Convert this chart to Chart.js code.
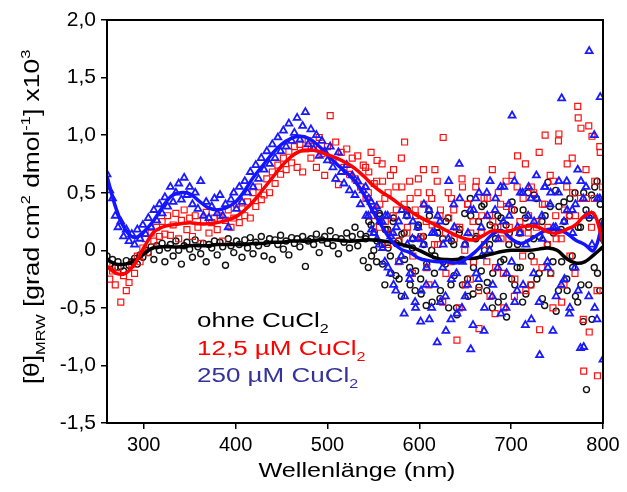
<!DOCTYPE html>
<html>
<head>
<meta charset="utf-8">
<script src="https://cdn.jsdelivr.net/npm/chart.js@4"></script>
<style>
  html, body { margin: 0; padding: 0; background: #fff; }
  #wrap { width: 627px; height: 492px; }
</style>
</head>
<body>
<div id="wrap"><canvas id="cdChart" width="627" height="492"></canvas></div>
<script>
// wavelength grid of the measurement (nm) and of the smoothed fits
const scanStart = 260, scanEnd = 800, scanStep = 3;
const extraStart = 541.5;   // second, interleaved pass in the noisy range
const fitStep = 10;

// raw CD signal, one value per scan step (260, 263, ... 800)
const ohneValues = [
  -0.05, -0.12, -0.08, -0.15, -0.1, -0.14, -0.18, -0.09, -0.13, -0.1,
  -0.07, -0.12, -0.04, -0.06, 0.0, -0.02, 0.03, -0.08, 0.04, 0.0,
  0.06, -0.1, 0.02, 0.05, -0.05, 0.08, 0.0, -0.12, 0.04, 0.07,
  0.01, -0.06, 0.09, 0.03, -0.03, 0.06, -0.1, 0.05, 0.02, 0.08,
  -0.04, 0.07, 0.03, -0.13, 0.1, 0.04, -0.02, 0.08, 0.05, -0.06,
  0.09, 0.02, 0.11, -0.03, 0.07, 0.04, 0.12, -0.05, 0.06, 0.1,
  -0.08, 0.09, 0.05, 0.13, 0.01, 0.08, -0.04, 0.11, 0.06, 0.1,
  0.03, 0.12, -0.14, 0.08, 0.1, 0.05, 0.14, -0.02, 0.09, 0.12,
  0.06, 0.17, 0.04, 0.11, -0.03, 0.1, 0.07, 0.15, 0.02, 0.12,
  0.2, 0.04, 0.14, -0.09, 0.12, 0.25, -0.05, 0.16, 0.08, 0.3,
  -0.12, 0.18, 0.02, -0.2, 0.28, 0.06, -0.25, 0.14, -0.08, 0.35,
  -0.3, 0.1, -0.18, 0.22, -0.38, 0.05, -0.12, 0.3, -0.45, -0.05,
  0.15, -0.35, -0.1, 0.25, -0.5, 0.08, -0.22, -0.56, 0.18, -0.3,
  0.05, -0.4, 0.3, -0.15, 0.12, -0.32, 0.38, 0.0, -0.28, 0.22,
  -0.2, 0.1, -0.45, 0.28, -0.08, -0.58, 0.15, 0.42, -0.3, 0.05,
  -0.15, 0.35, -0.38, 0.2, -0.05, 0.48, -0.25, 0.12, -0.42, 0.3,
  0.59, -0.2, 0.15, -0.53, 0.38, -0.1, 0.25, -0.35, 0.45, -0.15,
  -0.4, 0.2, -0.3, 0.5, -1.21, 0.28, -0.6, 0.55, -0.2, 0.4,
  0.1
];
const cu12Values = [
  -0.12, -0.25, -0.18, -0.3, -0.15, -0.45, -0.22, -0.35, -0.28, -0.12,
  -0.2, -0.05, -0.1, 0.02, 0.1, -0.02, 0.15, 0.08, 0.2, 0.12,
  0.25, 0.14, 0.3, 0.13, 0.22, 0.32, 0.1, 0.26, 0.35, 0.18,
  0.28, 0.12, 0.3, 0.2, 0.06, 0.26, 0.33, 0.15, 0.24, 0.28,
  0.18, 0.3, 0.08, 0.26, 0.35, 0.2, 0.28, 0.4, 0.24, 0.36,
  0.3, 0.42, 0.28, 0.5, 0.38, 0.55, 0.44, 0.48, 0.62, 0.5,
  0.68, 0.58, 0.74, 0.66, 0.8, 0.7, 0.86, 0.76, 0.9, 0.72,
  0.92, 0.68, 0.88, 0.95, 0.8, 0.9, 0.72, 0.98, 0.84, 0.65,
  0.9, 1.17, 0.78, 0.94, 0.57, 0.85, 0.72, 0.88, 0.66, 0.8,
  0.62, 0.82, 0.55, 0.74, 0.45, 0.68, 0.3, 0.58, 0.78, 0.4,
  0.6, 0.25, 0.5, 0.15, 0.7, 0.35, 0.08, 0.55, 0.94, 0.2,
  0.45, -0.05, 0.3, 0.62, 0.12, 0.4, -0.15, 0.5, 0.22, 0.7,
  0.05, 0.35, 0.98, -0.2, 0.28, 0.45, 0.1, -0.78, 0.2, 0.55,
  -0.3, 0.4, 0.15, -0.1, 0.6, -0.68, 0.3, 0.05, 0.45, -0.4,
  0.25, -0.15, 0.5, 0.1, -0.5, 0.38, 0.2, 0.65, -0.25, 0.82,
  0.15, 0.45, -0.35, 0.3, 0.55, -0.1, 0.25, -0.69, 0.4, 1.0,
  0.2, -0.2, 0.6, 0.1, 1.01, -0.45, 0.35, 0.75, -0.05, 0.5,
  0.3, 1.15, 1.06, -1.05, 0.45, -0.71, 0.99, 0.6, -1.09, 0.85,
  0.2
];
const cu250Values = [
  0.66, 0.52, 0.45, 0.3, 0.2, 0.25, 0.12, 0.18, 0.08, 0.14,
  0.05, 0.18, 0.1, 0.22, 0.14, 0.28, 0.2, 0.35, 0.26, 0.4,
  0.32, 0.46, 0.38, 0.55, 0.42, 0.5, 0.58, 0.44, 0.63, 0.48,
  0.55, 0.4, 0.5, 0.36, 0.6, 0.3, 0.42, 0.28, 0.38, 0.45,
  0.32, 0.48, 0.3, 0.4, 0.2, 0.44, 0.5, 0.36, 0.55, 0.42,
  0.6, 0.5, 0.68, 0.55, 0.74, 0.62, 0.8, 0.7, 0.86, 0.75,
  0.92, 0.8, 0.98, 0.86, 1.04, 0.9, 1.1, 0.95, 1.02, 1.15,
  0.96, 1.08, 1.2, 0.92, 1.05, 0.88, 1.0, 0.82, 0.95, 0.86,
  0.78, 0.9, 0.72, 0.62, 0.85, 0.68, 0.58, 0.74, 0.52, 0.65,
  0.48, 0.6, 0.4, 0.52, 0.3, 0.45, 0.18, 0.35, 0.1, 0.25,
  0.02, 0.3, -0.15, 0.12, -0.3, 0.2, -0.1, 0.35, -0.4, 0.05,
  -0.2, 0.25, -0.5, 0.1, -0.35, 0.4, -0.15, -0.6, 0.15, -0.3,
  0.3, -0.45, 0.05, -0.7, 0.6, -0.25, 0.2, -0.55, 0.45, -0.1,
  -0.4, 0.15, -0.86, 0.35, -0.2, 0.5, -0.05, -0.5, 0.3, 0.6,
  -0.3, 0.45, 0.1, -0.55, 0.55, -0.2, 0.3, 1.17, -0.45, 0.2,
  0.5, -0.3, 0.05, 0.55, -0.6, 0.25, 0.45, -0.91, 0.1, 0.55,
  -0.15, 0.5, 0.2, -0.4, 0.6, 1.32, -0.25, 0.35, -0.5, 0.15,
  0.4, -0.35, 0.6, -0.84, 0.3, 1.73, 0.05, -0.5, 0.45, 1.33,
  -0.95
];

// second pass, 541.5, 544.5, ... 799.5 nm
const ohneExtra = [
  0.1, -0.15, 0.22, 0.0, -0.1, 0.32, 0.05, -0.3, 0.18, -0.05,
  0.25, -0.22, 0.08, -0.4, 0.15, 0.3, -0.15, 0.02, -0.35, 0.2,
  -0.25, 0.12, -0.48, 0.35, 0.0, -0.2, 0.2, -0.42, 0.1, -0.12,
  0.28, -0.3, 0.05, -0.5, 0.15, -0.08, 0.32, -0.25, 0.45, -0.38,
  0.1, 0.25, -0.18, 0.4, -0.35, 0.05, -0.5, 0.2, 0.3, -0.1,
  -0.4, 0.22, 0.05, -0.25, 0.35, -0.15, 0.15, -0.45, 0.28, 0.5,
  -0.3, 0.1, 0.45, -0.2, 0.25, -0.48, 0.05, 0.38, -0.1, 0.52,
  -0.35, 0.18, 0.42, -0.25, 0.3, -0.05, 0.5, -0.45, 0.2, -0.62,
  0.35, -0.3, 0.48, -0.15, 0.6, -0.35, 0.25
];
const cu12Extra = [
  0.72, 0.5, 0.85, 0.35, 0.6, 0.2, 0.75, 0.45, 0.05, 0.65,
  0.3, 0.55, -0.1, 0.8, 0.4, 0.15, 0.6, -0.2, 0.35, 0.5,
  0.1, 0.7, 0.25, -0.3, 0.45, 0.05, 0.6, 0.3, -0.45, 0.15,
  0.5, -0.1, 0.35, 0.2, -0.5, 0.62, 0.0, 0.4, -0.25, 0.25,
  0.55, -0.35, 0.15, 0.45, -0.1, 0.3, 0.7, -0.55, 0.2, 0.4,
  -0.2, 0.6, 0.1, 0.35, -0.4, 0.55, 0.25, -0.05, 0.75, 0.15,
  -0.3, 0.5, 0.2, 0.85, -0.15, 0.4, 0.05, 0.65, -0.5, 0.3,
  0.95, 0.1, -0.3, 0.55, 0.3, 0.8, -0.2, 1.25, 0.45, -0.6,
  0.7, 1.08, 0.2, 0.45, -0.35, 0.9, 0.55
];
const cu250Extra = [
  0.55, 0.3, 0.42, 0.15, 0.38, 0.05, 0.25, -0.1, 0.3, -0.2,
  0.15, -0.35, 0.25, -0.05, -0.55, 0.3, -0.25, 0.1, -0.45, 0.2,
  -0.62, 0.05, -0.3, 0.35, -0.5, 0.15, -0.8, 0.25, -0.15, -0.4,
  0.1, -0.6, 0.4, -0.2, 0.75, -0.5, 0.05, -0.3, 0.35, -0.65,
  0.45, -0.25, 0.2, -0.7, 0.5, 0.0, -0.4, 0.35, -0.15, 0.55,
  0.25, -0.5, 0.4, -0.1, 0.6, -0.35, 0.15, 0.5, -0.65, 0.3,
  0.45, -0.2, 0.65, -0.45, 0.3, 0.55, -0.1, 0.4, -0.7, 0.2,
  0.5, -0.3, 0.25, 0.6, -0.55, 0.35, -0.15, 0.7, -0.85, 0.45,
  0.55, -0.4, 0.3, 1.0, -0.6, 0.45, 0.15
];

// smoothed curves, one value per 10 nm (260 ... 800)
const ohneFit = [
  -0.08, -0.12, -0.12, -0.09, -0.03, 0.02, 0.03, 0.03, 0.03, 0.04,
  0.04, 0.04, 0.05, 0.05, 0.05, 0.05, 0.06, 0.06, 0.07, 0.07,
  0.08, 0.08, 0.08, 0.09, 0.09, 0.09, 0.08, 0.08, 0.09, 0.09,
  0.08, 0.07, 0.05, 0.03, 0.0, -0.04, -0.07, -0.08, -0.08, -0.07,
  -0.07, -0.05, -0.03, -0.01, 0.0, 0.0, 0.0, 0.01, 0.02, 0.0,
  -0.07, -0.11, -0.1, -0.04, 0.03
];
const cu12Fit = [
  -0.14, -0.2, -0.2, -0.12, 0.02, 0.15, 0.2, 0.22, 0.23, 0.24,
  0.23, 0.23, 0.24, 0.26, 0.29, 0.35, 0.43, 0.53, 0.63, 0.73,
  0.81, 0.86, 0.87, 0.86, 0.83, 0.8, 0.76, 0.71, 0.64, 0.56,
  0.5, 0.45, 0.39, 0.34, 0.29, 0.25, 0.21, 0.17, 0.13, 0.1,
  0.09, 0.13, 0.17, 0.16, 0.17, 0.2, 0.21, 0.2, 0.16, 0.15,
  0.18, 0.22, 0.3, 0.32, 0.06
];
const cu250Fit = [
  0.64, 0.36, 0.18, 0.11, 0.16, 0.25, 0.37, 0.47, 0.5, 0.49,
  0.43, 0.37, 0.35, 0.37, 0.42, 0.52, 0.64, 0.74, 0.84, 0.92,
  0.97, 0.99, 0.97, 0.91, 0.83, 0.75, 0.68, 0.6, 0.48, 0.33,
  0.2, 0.08, 0.01, -0.02, -0.07, -0.09, -0.1, -0.1, -0.11, -0.08,
  -0.02, 0.06, 0.14, 0.17, 0.1, 0.06, 0.09, 0.14, 0.18, 0.18,
  0.15, 0.09, 0.05, 0.0, 0.26
];

const xTickValues = [300, 400, 500, 600, 700, 800];
const yTickValues = [-1.5, -1.0, -0.5, 0, 0.5, 1.0, 1.5, 2.0];
const yTickLabels = ['-1,5', '-1,0', '-0,5', '0', '0,5', '1,0', '1,5', '2,0'];

const FONT = '"Liberation Sans", Arial, sans-serif';

const scanWaves = [];
for (let w = scanStart; w <= scanEnd; w += scanStep) scanWaves.push(w);
const extraWaves = [];
for (let w = extraStart; w <= scanEnd; w += scanStep) extraWaves.push(w);
const fitWaves = [];
for (let w = scanStart; w <= scanEnd; w += fitStep) fitWaves.push(w);

const toPoints = (xs, ys) => xs.map((x, i) => ({ x, y: ys[i] }));

// draws a run of text pieces (normal / sub / sup), optionally rotated and stretched
function drawRich(ctx, parts, x, y, size, stretch, rotate, align) {
  let total = 0;
  parts.forEach(p => {
    p.size = p.k ? size * 0.62 : size;
    ctx.font = `${p.size}px ${FONT}`;
    p.w = ctx.measureText(p.t).width;
    total += p.w;
  });
  ctx.save();
  ctx.translate(x, y);
  if (rotate) ctx.rotate(rotate);
  ctx.scale(stretch, 1);
  let cx = align === 'center' ? -total / 2 : 0;
  ctx.textBaseline = 'alphabetic';
  ctx.textAlign = 'left';
  parts.forEach(p => {
    ctx.font = `${p.size}px ${FONT}`;
    let dy = 0;
    if (p.k === 'sub') dy = size * 0.28;
    if (p.k === 'sup') dy = -size * 0.42;
    ctx.fillText(p.t, cx, dy);
    cx += p.w;
  });
  ctx.restore();
}

const framePlugin = {
  id: 'framePlugin',
  beforeDraw(chart) {
    const { ctx } = chart;
    ctx.save();
    ctx.fillStyle = '#fff';
    ctx.fillRect(0, 0, chart.width, chart.height);
    ctx.restore();
  },
  afterDraw(chart) {
    const { ctx, chartArea: a } = chart;
    ctx.save();
    ctx.strokeStyle = '#000';
    ctx.lineWidth = 2;
    ctx.strokeRect(a.left, a.top, a.right - a.left, a.bottom - a.top);

    // y title
    ctx.fillStyle = '#000';
    drawRich(ctx, [
      { t: '[θ]' }, { t: 'MRW', k: 'sub' }, { t: ' [grad cm' }, { t: '2', k: 'sup' },
      { t: ' dmol' }, { t: '-1', k: 'sup' }, { t: '] x10' }, { t: '3', k: 'sup' }
    ], 39, 217, 22, 1.2, -Math.PI / 2, 'center');

    // x title
    drawRich(ctx, [{ t: 'Wellenlänge (nm)' }], 357, 477, 21, 1.2, 0, 'center');

    // legend text
    const legend = [
      { text: '12,5 µM CuCl', color: '#ff0000', y: 355 },
      { text: '250 µM CuCl', color: '#333399', y: 382 }
    ];
    ctx.fillStyle = '#000';
    drawRich(ctx, [{ t: 'ohne CuCl' }, { t: '2', k: 'sub' }], 197, 327, 20, 1.3, 0, 'left');
    legend.forEach(l => {
      ctx.fillStyle = l.color;
      drawRich(ctx, [{ t: l.text }, { t: '2', k: 'sub' }], 197, l.y, 20, 1.3, 0, 'left');
    });
    ctx.restore();
  }
};

const scatterSet = (label, xs, values, color, style, radius, width, order) => ({
  type: 'scatter',
  label,
  data: toPoints(xs, values),
  pointStyle: style,
  pointRadius: radius,
  pointBorderWidth: width,
  borderColor: color,
  backgroundColor: 'rgba(255,255,255,0)',
  showLine: false,
  order
});

const fitSet = (label, values, color, order) => ({
  type: 'line',
  label,
  data: toPoints(fitWaves, values),
  borderColor: color,
  borderWidth: 3.5,
  pointRadius: 0,
  tension: 0.4,
  fill: false,
  order
});

new Chart(document.getElementById('cdChart').getContext('2d'), {
  type: 'scatter',
  data: {
    datasets: [
      scatterSet('ohne CuCl2', scanWaves, ohneValues, '#111111', 'circle', 3, 1.4, 9),
      scatterSet('ohne CuCl2 b', extraWaves, ohneExtra, '#111111', 'circle', 3, 1.4, 8),
      scatterSet('12,5 µM CuCl2', scanWaves, cu12Values, '#ff1010', 'rect', 4.2, 1.2, 7),
      scatterSet('12,5 µM CuCl2 b', extraWaves, cu12Extra, '#ff1010', 'rect', 4.2, 1.2, 6),
      scatterSet('250 µM CuCl2', scanWaves, cu250Values, '#1a1aff', 'triangle', 4, 1.8, 5),
      scatterSet('250 µM CuCl2 b', extraWaves, cu250Extra, '#1a1aff', 'triangle', 4, 1.8, 4),
      fitSet('ohne fit', ohneFit, '#000000', 3),
      fitSet('250 fit', cu250Fit, '#1414ff', 2),
      fitSet('12,5 fit', cu12Fit, '#ff0000', 1)
    ]
  },
  options: {
    responsive: false,
    animation: false,
    layout: { padding: { left: 0, top: 20, right: 24, bottom: 0 } },
    plugins: {
      legend: { display: false },
      tooltip: { enabled: false }
    },
    scales: {
      x: {
        type: 'linear',
        min: scanStart,
        max: scanEnd,
        afterBuildTicks: axis => { axis.ticks = xTickValues.map(v => ({ value: v })); },
        afterFit: axis => { axis.height = 69; },
        grid: { drawOnChartArea: false, drawTicks: true, tickLength: 6, color: '#000', lineWidth: 1.5 },
        border: { color: '#000', width: 2 },
        ticks: { color: '#000', font: { family: FONT, size: 20 }, padding: 4, maxRotation: 0 }
      },
      y: {
        min: -1.5,
        max: 2.0,
        afterBuildTicks: axis => { axis.ticks = yTickValues.map(v => ({ value: v })); },
        afterFit: axis => { axis.width = 107; },
        grid: { drawOnChartArea: false, drawTicks: true, tickLength: 6, color: '#000', lineWidth: 1.5 },
        border: { color: '#000', width: 2 },
        ticks: {
          color: '#000',
          font: { family: FONT, size: 21 },
          padding: 5,
          callback: (v, i) => yTickLabels[yTickValues.indexOf(v)] ?? ''
        }
      }
    }
  },
  plugins: [framePlugin]
});
</script>
</body>
</html>
